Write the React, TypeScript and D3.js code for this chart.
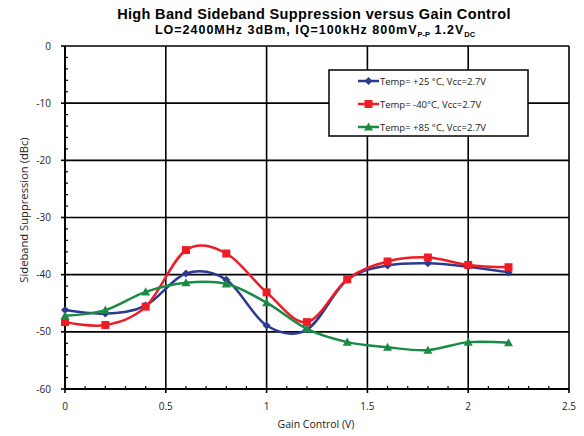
import React from "react";
import * as d3 from "d3";

const xValues = [0, 0.2, 0.4, 0.6, 0.8, 1.0, 1.2, 1.4, 1.6, 1.8, 2.0, 2.2];
const temp25 = [-46.2, -46.8, -45.4, -39.8, -40.9, -48.9, -49.6, -40.9, -38.4, -38.0, -38.6, -39.6];
const tempM40 = [-48.3, -48.8, -45.6, -35.7, -36.3, -43.1, -48.3, -40.8, -37.7, -37.0, -38.3, -38.7];
const temp85 = [-47.2, -46.2, -43.0, -41.4, -41.6, -44.9, -49.5, -51.8, -52.7, -53.2, -51.8, -51.9];
const seriesNames = ["Temp= +25 \u00B0C, Vcc=2.7V", "Temp=  -40\u00B0C, Vcc=2.7V", "Temp= +85 \u00B0C, Vcc=2.7V"];
const xTicks = [0, 0.5, 1, 1.5, 2, 2.5];
const yTicks = [0, -10, -20, -30, -40, -50, -60];

const W = 584, H = 436;
const M = { left: 65, right: 15, top: 46, bottom: 47 };

export default function App() {
  const x = d3.scaleLinear().domain([0, 2.5]).range([M.left, W - M.right]);
  const y = d3.scaleLinear().domain([-60, 0]).range([H - M.bottom, M.top]);
  const line = d3
    .line<[number, number]>()
    .x((d) => x(d[0]))
    .y((d) => y(d[1]))
    .curve(d3.curveCardinal.tension(0));

  const series = [
    { name: seriesNames[0], values: temp25, color: "#2B3990", marker: "diamond" },
    { name: seriesNames[1], values: tempM40, color: "#EE1C25", marker: "square" },
    { name: seriesNames[2], values: temp85, color: "#1A8B45", marker: "triangle" },
  ];

  const marker = (type: string, cx: number, cy: number, color: string, key: string) => {
    if (type === "diamond") {
      const s = 4;
      return <path key={key} d={`M${cx},${cy - s}L${cx + s},${cy}L${cx},${cy + s}L${cx - s},${cy}Z`} fill={color} />;
    }
    if (type === "square") {
      const s = 4;
      return <rect key={key} x={cx - s} y={cy - s} width={2 * s} height={2 * s} fill={color} />;
    }
    const s = 4.5;
    return <path key={key} d={`M${cx},${cy - s}L${cx + s},${cy + s * 0.8}L${cx - s},${cy + s * 0.8}Z`} fill={color} />;
  };

  const yMinor = d3.range(-60, 0.01, 2).filter((v) => Math.abs(v % 10) > 0.01);
  const xMinor = d3.range(0, 2.501, 0.1).filter((v) => Math.abs((v * 10) % 5) > 0.01 && Math.abs((v * 10) % 5 - 5) > 0.01);

  const tickFont = "'Open Sans', 'Noto Sans', sans-serif";
  const x0 = M.left, x1 = W - M.right, y0 = H - M.bottom, y1 = M.top;

  const lx = 329, ly = 70, lw = 199, lh = 66;

  return (
    <svg width={W} height={H} style={{ position: "absolute", left: 0, top: 0 }}>
      <rect x={0} y={0} width={W} height={H} fill="#fff" />
      <text x={314} y={19} textAnchor="middle" fontFamily="'Liberation Sans', Arial, sans-serif" fontWeight="bold" fontSize={14.5} letterSpacing={0.35}>
        High Band Sideband Suppression versus Gain Control
      </text>
      <text x={315} y={34} textAnchor="middle" fontFamily="'Liberation Sans', Arial, sans-serif" fontWeight="bold" fontSize={12.5} letterSpacing={1}>
        LO=2400MHz 3dBm, IQ=100kHz 800mV
        <tspan fontSize={7.5} dy={3} letterSpacing={0}>P-P</tspan>
        <tspan dy={-3}> 1.2V</tspan>
        <tspan fontSize={7.5} dy={3} letterSpacing={0}>DC</tspan>
      </text>

      {/* grid */}
      {yTicks.map((v) => (
        <line key={"gy" + v} x1={x0} x2={x1} y1={y(v)} y2={y(v)} stroke="#000" strokeWidth={1.6} />
      ))}
      {xTicks.map((v) => (
        <line key={"gx" + v} x1={x(v)} x2={x(v)} y1={y0} y2={y1} stroke="#000" strokeWidth={1.6} />
      ))}
      {/* minor ticks */}
      {yMinor.map((v) => (
        <line key={"my" + v} x1={x0} x2={x0 + 3} y1={y(v)} y2={y(v)} stroke="#000" strokeWidth={1.2} />
      ))}
      {xMinor.map((v) => (
        <line key={"mx" + v} x1={x(v)} x2={x(v)} y1={y0} y2={y0 - 3} stroke="#000" strokeWidth={1.2} />
      ))}
      {/* major tick marks outside */}
      {yTicks.map((v) => (
        <line key={"ty" + v} x1={x0 - 4} x2={x0} y1={y(v)} y2={y(v)} stroke="#000" strokeWidth={1.6} />
      ))}
      {xTicks.map((v) => (
        <line key={"tx" + v} x1={x(v)} x2={x(v)} y1={y0} y2={y0 + 4} stroke="#000" strokeWidth={1.6} />
      ))}
      {/* axes */}
      <line x1={x0} x2={x0} y1={y0} y2={y1} stroke="#000" strokeWidth={2} />
      <line x1={x0} x2={x1} y1={y0} y2={y0} stroke="#000" strokeWidth={2} />

      {/* tick labels */}
      {yTicks.map((v) => (
        <text key={"ly" + v} x={51} y={y(v) + 3.5} textAnchor="end" fontFamily={tickFont} fontSize={10} fill="#222">
          {v}
        </text>
      ))}
      {xTicks.map((v) => (
        <text key={"lx" + v} x={x(v)} y={410} textAnchor="middle" fontFamily={tickFont} fontSize={10} fill="#222">
          {v}
        </text>
      ))}
      <text x={316} y={428} textAnchor="middle" fontFamily={tickFont} fontSize={10.5} fill="#222">
        Gain Control (V)
      </text>
      <text transform={`translate(28,210) rotate(-90)`} textAnchor="middle" fontFamily={tickFont} fontSize={11.2} fill="#222">
        Sideband Suppression (dBc)
      </text>

      {/* series */}
      {series.map((s) => (
        <g key={s.name}>
          <path d={line(xValues.map((xv, i) => [xv, s.values[i]]) as [number, number][]) || ""} fill="none" stroke={s.color} strokeWidth={2.5} />
          {xValues.map((xv, i) => marker(s.marker, x(xv), y(s.values[i]), s.color, s.name + i))}
        </g>
      ))}

      {/* legend */}
      <rect x={lx} y={ly} width={lw} height={lh} fill="#fff" stroke="#000" strokeWidth={1.5} />
      {series.map((s, i) => {
        const cy = 81 + i * 23;
        return (
          <g key={"leg" + i}>
            <line x1={358} x2={379} y1={cy} y2={cy} stroke={s.color} strokeWidth={2.5} />
            {marker(s.marker, 368.5, cy, s.color, "lm" + i)}
            <text x={380} y={cy + 3.5} fontFamily={tickFont} fontSize={9.5} fill="#222">
              {s.name}
            </text>
          </g>
        );
      })}
    </svg>
  );
}
